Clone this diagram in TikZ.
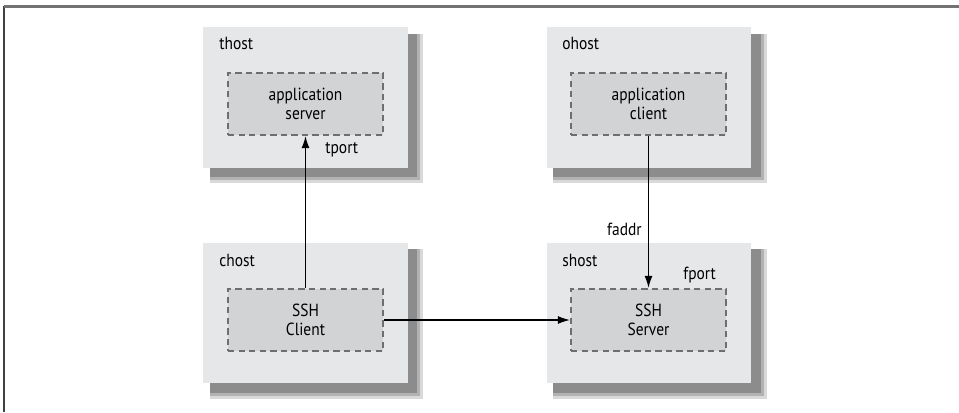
\documentclass[tikz,border=0pt]{standalone}
\usepackage{fontspec}
\setmainfont{PT Sans}[FakeStretch=0.88]
\usetikzlibrary{arrows.meta,backgrounds}
\definecolor{hostfill}{HTML}{E6E7E8}
\definecolor{procfill}{HTML}{D1D3D4}
\definecolor{dashgray}{HTML}{6D6E71}
\begin{document}
\begin{tikzpicture}
  [x=0.02cm,y=-0.02cm,
   font=\fontsize{10}{10.5}\selectfont,
   host/.style={rectangle,fill=hostfill,inner sep=0pt,
     minimum width=4.1cm,minimum height=2.82cm},
   proc/.style={rectangle,fill=procfill,draw=dashgray,line width=1.3pt,
     dash pattern=on 3.6pt off 2.4pt,align=center,inner sep=0pt,
     minimum width=3.1cm,minimum height=1.24cm},
   tag/.style={anchor=west,inner sep=0pt},
   link/.style={-{Latex[length=2.4mm,width=1.6mm]},line width=0.7pt}]

  \useasboundingbox (0,0) rectangle (959,412);
  \draw[line width=1.2pt,black!75] (4,6.5) -- (4,412);
  \draw[line width=1.2pt,black!55] (4,6.5) -- (959,6.5);

  \node [host] (thost) at (305.5,97.5) {};
  \node [host] (ohost) at (649,97.5) {};
  \node [host] (chost) at (305.5,313) {};
  \node [host] (shost) at (649,313) {};

  \begin{scope}[on background layer]
    \foreach \h in {thost,ohost,chost,shost} {
      \fill[black!15] ([shift={(7,7)}]\h.north west) rectangle ([shift={(15,15)}]\h.south east);
      \fill[black!30] ([shift={(7,7)}]\h.north west) rectangle ([shift={(12,12)}]\h.south east);
      \fill[black!45] ([shift={(7,7)}]\h.north west) rectangle ([shift={(9,9)}]\h.south east);
    }
  \end{scope}

  \node [proc] (asrv) at (305.5,104) {application\\server};
  \node [proc] (acli) at (648.5,104) {application\\client};
  \node [proc] (cli) at (305.5,320) {SSH\\Client};
  \node [proc] (srv) at (648.5,320) {SSH\\Server};

  \node [tag] (thostlbl) at (219,43) {thost};
  \node [tag] (ohostlbl) at (562,43) {ohost};
  \node [tag] (chostlbl) at (219,260) {chost};
  \node [tag] (shostlbl) at (562,260) {shost};
  \node [tag] (tport) at (325,150) {tport};
  \node [tag,anchor=east] (faddr) at (642,229) {faddr};
  \node [tag] (fport) at (683,275) {fport};

  \foreach \from/\to in {cli.north/asrv.south,acli.south/srv.north,cli.east/srv.west}
    \draw [link] (\from) -- (\to);
\end{tikzpicture}
\end{document}
